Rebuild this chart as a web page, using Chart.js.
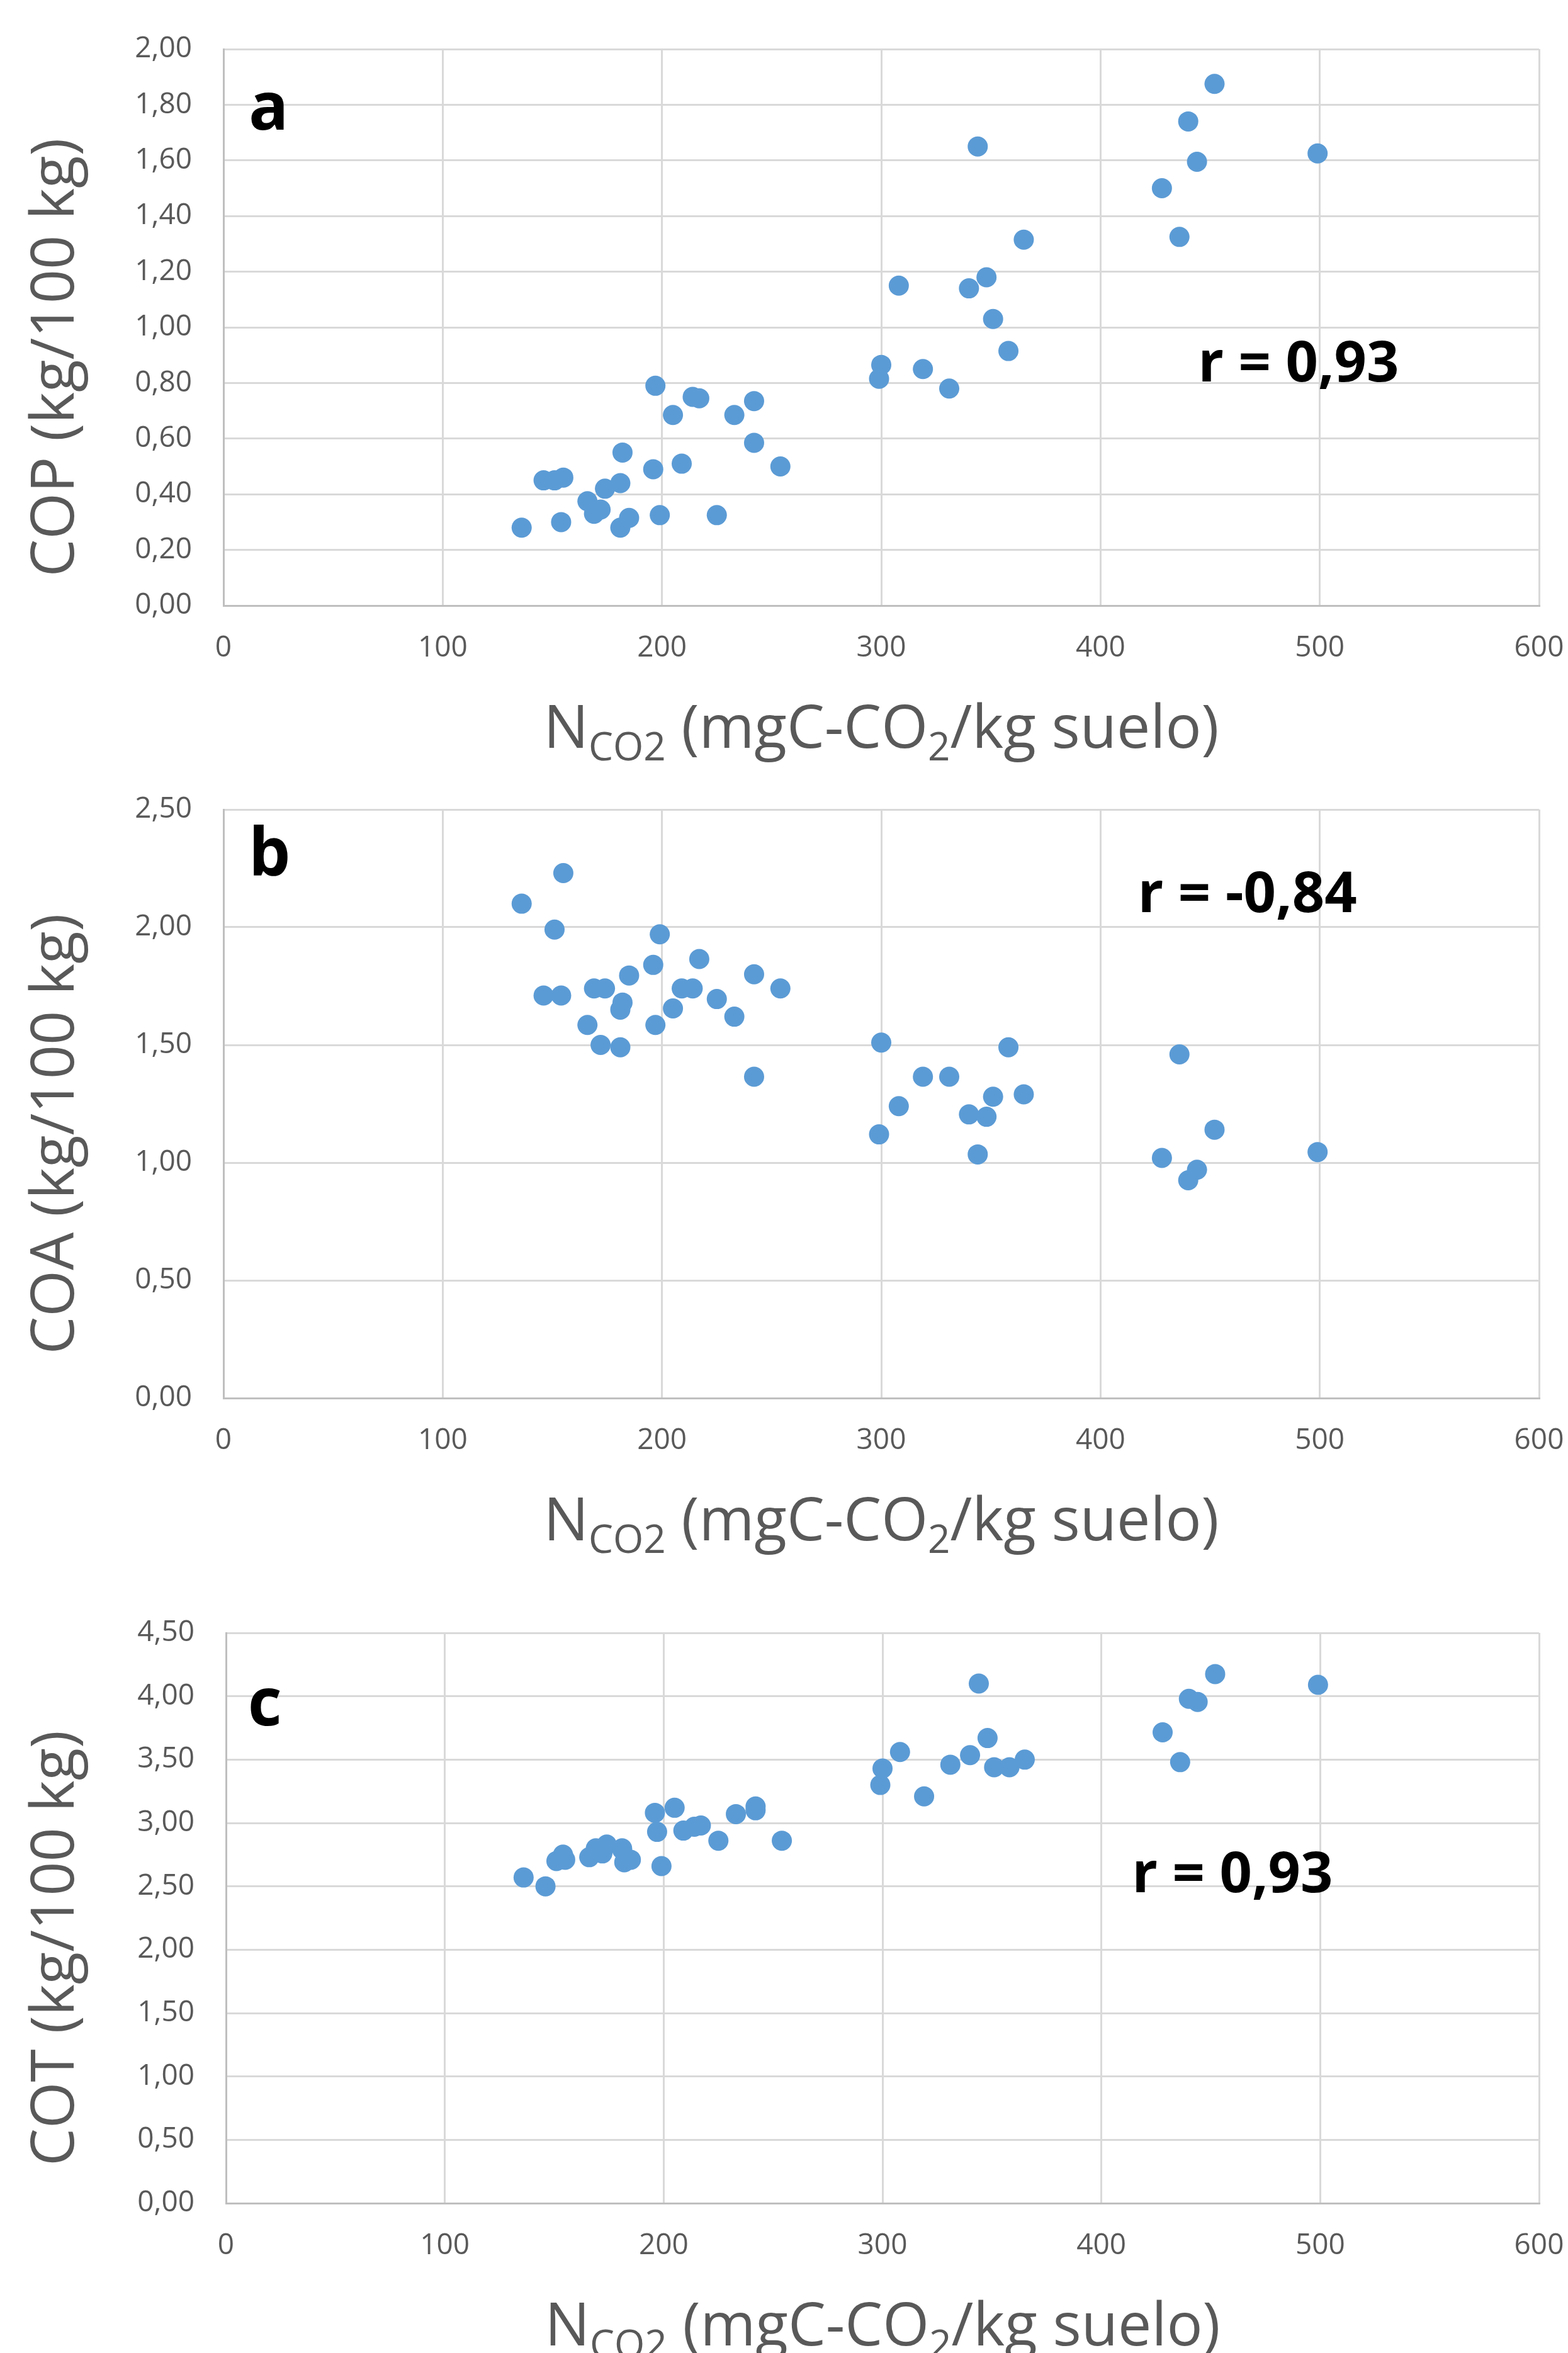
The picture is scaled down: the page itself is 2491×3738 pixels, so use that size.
<!DOCTYPE html>
<html lang="es">
<head>
<meta charset="UTF-8">
<title>NCO2 frente a COP, COA y COT</title>
<script src="https://cdn.jsdelivr.net/npm/chart.js@4.4.1/dist/chart.umd.min.js"></script>
<style>
  body { margin: 0; background: #fff; width: 2491px; height: 3738px; overflow: hidden; }
  .panel { position: absolute; left: 0; width: 2491px; }
  canvas { display: block; }
</style>
</head>
<body>
<div class="panel" style="top:0"><canvas id="chartA" width="2491" height="1245"></canvas></div>
<div class="panel" style="top:1245px"><canvas id="chartB" width="2491" height="1245"></canvas></div>
<div class="panel" style="top:2490px"><canvas id="chartC" width="2491" height="1248"></canvas></div>
<script>
// NCO2 (mgC-CO2/kg suelo), the same samples in the three panels
const nco2 = [136, 146, 151, 154, 155, 166, 169, 172, 174, 181, 181, 182, 185, 196, 197, 199, 205, 209, 214, 217, 225, 233, 242, 242, 254,
              299, 300, 308, 319, 331, 340, 344, 348, 351, 358, 365, 428, 436, 440, 444, 452, 499];
// COP (kg/100 kg)
const cop = [0.28, 0.45, 0.45, 0.30, 0.46, 0.375, 0.33, 0.345, 0.42, 0.28, 0.44, 0.55, 0.315, 0.49, 0.79, 0.325, 0.685, 0.51, 0.75, 0.745, 0.325, 0.685, 0.735, 0.585, 0.50,
             0.815, 0.865, 1.15, 0.85, 0.78, 1.14, 1.65, 1.18, 1.03, 0.915, 1.315, 1.50, 1.325, 1.74, 1.595, 1.875, 1.625];
// COA (kg/100 kg)
const coa = [2.10, 1.71, 1.99, 1.71, 2.23, 1.585, 1.74, 1.50, 1.74, 1.49, 1.65, 1.68, 1.795, 1.84, 1.585, 1.97, 1.655, 1.74, 1.74, 1.865, 1.695, 1.62, 1.80, 1.365, 1.74,
             1.12, 1.51, 1.24, 1.365, 1.365, 1.205, 1.035, 1.195, 1.28, 1.49, 1.29, 1.02, 1.46, 0.925, 0.97, 1.14, 1.045];
// COT (kg/100 kg)
const cot = [2.57, 2.50, 2.70, 2.75, 2.71, 2.73, 2.80, 2.76, 2.83, 2.79, 2.80, 2.69, 2.71, 3.08, 2.93, 2.66, 3.12, 2.94, 2.97, 2.98, 2.86, 3.07, 3.13, 3.10, 2.86,
             3.30, 3.43, 3.56, 3.21, 3.46, 3.535, 4.10, 3.67, 3.44, 3.44, 3.50, 3.715, 3.48, 3.98, 3.955, 4.175, 4.09];

const xTicks = [0, 100, 200, 300, 400, 500, 600];
const copTicks = [0, 0.2, 0.4, 0.6, 0.8, 1.0, 1.2, 1.4, 1.6, 1.8, 2.0];
const coaTicks = [0, 0.5, 1.0, 1.5, 2.0, 2.5];
const cotTicks = [0, 0.5, 1.0, 1.5, 2.0, 2.5, 3.0, 3.5, 4.0, 4.5];

const grey = '#595959';
const dotBlue = '#5b9bd5';

// axis titles, panel letter and r value
const panelText = {
  id: 'panelText',
  afterDraw(chart, args, o) {
    const { ctx, chartArea: ca, scales: { x, y } } = chart;

    ctx.save();
    ctx.fillStyle = grey;
    ctx.font = '95px "Open Sans"';
    ctx.textAlign = 'center';
    ctx.textBaseline = 'alphabetic';
    ctx.translate(117, (ca.top + ca.bottom) / 2 + 48);
    ctx.rotate(-Math.PI / 2);
    ctx.fillText(o.yTitle, 0, 0);
    ctx.restore();

    // N_CO2 (mgC-CO_2/kg suelo)
    const parts = [['N', false], ['CO2', true], [' (mgC-CO', false], ['2', true], ['/kg suelo)', false]];
    const big = '95px "Open Sans"', small = '62px "Open Sans"';
    ctx.save();
    ctx.fillStyle = grey;
    ctx.textAlign = 'left';
    ctx.textBaseline = 'alphabetic';
    let total = 0;
    parts.forEach(p => { ctx.font = p[1] ? small : big; total += ctx.measureText(p[0]).width; });
    let px = (ca.left + ca.right) / 2 - total / 2;
    const base = ca.bottom + 226;
    parts.forEach(p => {
      ctx.font = p[1] ? small : big;
      ctx.fillText(p[0], px, p[1] ? base + 20 : base);
      px += ctx.measureText(p[0]).width;
    });
    ctx.restore();

    ctx.save();
    ctx.fillStyle = '#000';
    ctx.textAlign = 'left';
    ctx.textBaseline = 'alphabetic';
    ctx.font = 'bold 105px "Open Sans"';
    ctx.fillText(o.letter, x.getPixelForValue(o.letterAt[0]), y.getPixelForValue(o.letterAt[1]));
    ctx.font = 'bold 90px "Open Sans"';
    ctx.fillText(o.rText, x.getPixelForValue(o.rAt[0]), y.getPixelForValue(o.rAt[1]));
    ctx.restore();
  }
};

function makePanel(id, values, yTicks, axisLeft, pad, text) {
  return new Chart(document.getElementById(id), {
    type: 'scatter',
    data: {
      datasets: [{
        data: nco2.map((v, i) => ({ x: v, y: values[i] })),
        pointRadius: 16,
        pointHoverRadius: 16,
        pointBackgroundColor: dotBlue,
        pointBorderColor: dotBlue,
        pointBorderWidth: 0
      }]
    },
    options: {
      responsive: false,
      devicePixelRatio: 1,
      animation: false,
      layout: { padding: pad },
      plugins: {
        legend: { display: false },
        tooltip: { enabled: false },
        panelText: text
      },
      scales: {
        x: {
          type: 'linear',
          min: 0,
          max: 600,
          afterBuildTicks: s => { s.ticks = xTicks.map(v => ({ value: v })); },
          afterFit: s => { s.height = 120; s.paddingLeft = 0; s.paddingRight = 0; },
          grid: { color: '#d9d9d9', lineWidth: 3, drawTicks: false },
          border: { color: '#bfbfbf', width: 3 },
          ticks: {
            padding: 40,
            color: grey,
            font: { family: 'Open Sans', size: 46 },
            callback: v => String(v)
          }
        },
        y: {
          type: 'linear',
          min: 0,
          max: yTicks[yTicks.length - 1],
          afterBuildTicks: s => { s.ticks = yTicks.map(v => ({ value: v })); },
          afterFit: s => { s.width = axisLeft; s.paddingTop = 0; s.paddingBottom = 0; },
          grid: { color: '#d9d9d9', lineWidth: 3, drawTicks: false },
          border: { color: '#bfbfbf', width: 3 },
          ticks: {
            padding: 50,
            color: grey,
            font: { family: 'Open Sans', size: 46 },
            callback: v => v.toFixed(2).replace('.', ',')
          }
        }
      }
    },
    plugins: [panelText]
  });
}

makePanel('chartA', cop, copTicks, 355, { top: 78, right: 46, bottom: 163, left: 0 },
  { yTitle: 'COP (kg/100 kg)', letter: 'a', letterAt: [11.5, 1.71], rText: 'r = 0,93', rAt: [444.5, 0.805] });
makePanel('chartB', coa, coaTicks, 355, { top: 41, right: 46, bottom: 149, left: 0 },
  { yTitle: 'COA (kg/100 kg)', letter: 'b', letterAt: [11.5, 2.22], rText: 'r = -0,84', rAt: [417, 2.064] });
makePanel('chartC', cot, cotTicks, 359, { top: 104, right: 46, bottom: 118, left: 0 },
  { yTitle: 'COT (kg/100 kg)', letter: 'c', letterAt: [10, 3.77], rText: 'r = 0,93', rAt: [414, 2.454] });
</script>
</body>
</html>
